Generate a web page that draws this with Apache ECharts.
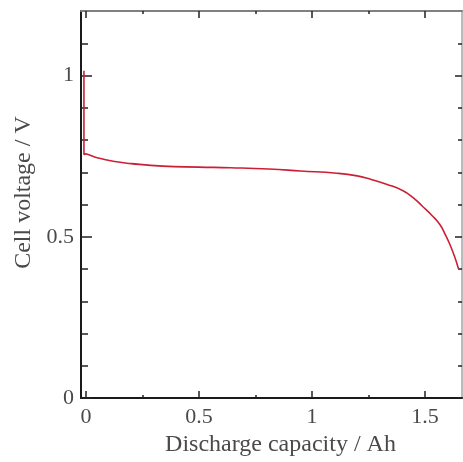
<!DOCTYPE html>
<html>
<head>
<meta charset="UTF-8">
<title>Cell voltage vs discharge capacity</title>
<script src="https://cdn.jsdelivr.net/npm/echarts@6/dist/echarts.min.js"></script>
<style>
  html, body { margin: 0; padding: 0; background: #fff; }
  #chart { width: 463px; height: 462px; }
</style>
</head>
<body>
<div id="chart"></div>
<script>
// discharge capacity (Ah) and cell voltage (V)
var capacity = [-0.009, -0.009, 0.0, 0.01, 0.05, 0.12, 0.2, 0.34, 0.5, 0.64, 0.81, 0.95, 1.11, 1.2, 1.257, 1.33, 1.403, 1.45, 1.49, 1.53, 1.566, 1.59, 1.61, 1.63, 1.648];
var voltage  = [1.015, 0.755, 0.757, 0.755, 0.745, 0.734, 0.727, 0.719, 0.716, 0.714, 0.710, 0.704, 0.697, 0.689, 0.679, 0.663, 0.643, 0.620, 0.594, 0.567, 0.538, 0.507, 0.477, 0.441, 0.402];

var xMajor = [0, 0.5, 1, 1.5];
var xMinor = [0.25, 0.75, 1.25];
var yMajor = [0, 0.5, 1];
var yMinor = [0.1, 0.2, 0.3, 0.4, 0.6, 0.7, 0.8, 0.9, 1.1];

var xMin = -0.022, xMax = 1.664;
var yMin = 0, yMax = 1.2;

var font = 'Liberation Serif';
var txt = '#4a4a4a';

var points = capacity.map(function (c, i) { return [c, voltage[i]]; });

function xAx(pos, ticks, len, lineShow, lineColor, labels) {
  return {
    type: 'value', position: pos, min: xMin, max: xMax,
    splitLine: { show: false },
    axisLine: { show: lineShow, onZero: false, lineStyle: { color: lineColor, width: 2 } },
    axisTick: { show: true, inside: true, length: len, customValues: ticks, lineStyle: { color: '#222', width: 1.5 } },
    axisLabel: labels ? { show: true, customValues: ticks, margin: 8, color: txt, fontFamily: font, fontSize: 22 } : { show: false }
  };
}
function yAx(pos, ticks, len, lineShow, lineColor, labels) {
  return {
    type: 'value', position: pos, min: yMin, max: yMax,
    splitLine: { show: false },
    axisLine: { show: lineShow, onZero: false, lineStyle: { color: lineColor, width: 2 } },
    axisTick: { show: true, inside: true, length: len, customValues: ticks, lineStyle: { color: '#222', width: 1.5 } },
    axisLabel: labels ? { show: true, customValues: ticks, margin: 7, color: txt, fontFamily: font, fontSize: 22 } : { show: false }
  };
}

var xBottom = xAx('bottom', xMajor, 7, true, '#1a1a1a', true);
xBottom.name = 'Discharge capacity / Ah';
xBottom.nameLocation = 'middle';
xBottom.nameGap = 31;
xBottom.nameTextStyle = { color: txt, fontFamily: font, fontSize: 24, padding: [0, 0, 0, 18] };

var yLeft = yAx('left', yMajor, 11, true, '#1a1a1a', true);
yLeft.name = 'Cell voltage / V';
yLeft.nameLocation = 'middle';
yLeft.nameGap = 44;
yLeft.nameTextStyle = { color: txt, fontFamily: font, fontSize: 24, padding: [0, 0, 0, 24] };

var chart = echarts.init(document.getElementById('chart'), null, { renderer: 'canvas' });
chart.setOption({
  animation: false,
  backgroundColor: '#fff',
  grid: { left: 81, right: 1, top: 11, bottom: 62, containLabel: false },
  xAxis: [
    xBottom,
    xAx('bottom', xMinor, 3, false, '#1a1a1a', false),
    xAx('top', xMajor, 7, true, '#808080', false),
    xAx('top', xMinor, 3, false, '#808080', false)
  ],
  yAxis: [
    yLeft,
    yAx('left', yMinor, 7, false, '#1a1a1a', false),
    yAx('right', yMajor, 7, true, '#bbbbbb', false),
    yAx('right', yMinor, 4, false, '#bbbbbb', false)
  ],
  series: [{
    type: 'line',
    xAxisIndex: 0,
    yAxisIndex: 0,
    data: points,
    showSymbol: false,
    smooth: 0.5,
    lineStyle: { color: '#cc1f35', width: 1.6 }
  }]
});
</script>
</body>
</html>
